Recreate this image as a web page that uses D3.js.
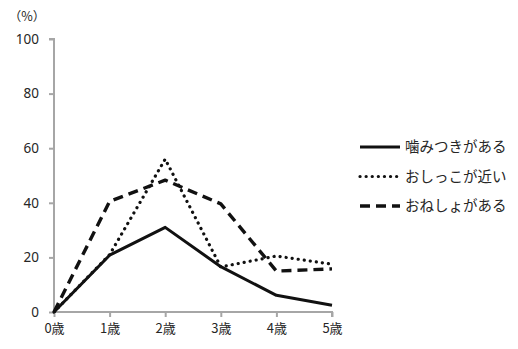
<!DOCTYPE html>
<html>
<head>
<meta charset="utf-8">
<script src="https://cdn.jsdelivr.net/npm/d3@7"></script>
<style>
  html, body { margin: 0; padding: 0; background: #fff; }
  svg { display: block; font-family: "Noto Sans CJK JP", "Noto Sans", sans-serif; }
</style>
</head>
<body>
<svg id="chart" width="518" height="349"></svg>
<script>
// Age categories along the horizontal axis
const ages = ["0歳", "1歳", "2歳", "3歳", "4歳", "5歳"];

// Percentages per symptom at each age
const bitingValues = [0, 20.8, 31, 16.6, 6.1, 2.5];
const urinationValues = [0, 21, 56, 16.5, 20.5, 17.5];
const bedwettingValues = [0, 40.5, 48.3, 39.6, 15, 15.8];

const seriesNames = ["噛みつきがある", "おしっこが近い", "おねしょがある"];
const yTicks = [0, 20, 40, 60, 80, 100];
const yUnit = "（%）";

const series = [
  { name: seriesNames[0], values: bitingValues, dash: null, width: 3, cap: "butt" },
  { name: seriesNames[1], values: urinationValues, dash: "0.1,6", width: 3.2, cap: "round" },
  { name: seriesNames[2], values: bedwettingValues, dash: "10,6", width: 3.4, cap: "butt" }
];

const svg = d3.select("#chart");
const plotLeft = 54, plotRight = 332, plotTop = 39, plotBottom = 312;

const x = d3.scalePoint().domain(ages).range([plotLeft, plotRight]);
const y = d3.scaleLinear().domain([0, 100]).range([plotBottom, plotTop]);

const axisColor = "#a6a6a6";
const textColor = "#262626";

// Y axis
const yAxis = svg.append("g")
  .attr("transform", `translate(${plotLeft},0)`)
  .attr("font-size", null).attr("font-family", null)
  .call(d3.axisLeft(y).tickValues(yTicks).tickSize(5).tickPadding(10));
yAxis.attr("font-size", null).attr("font-family", null);
yAxis.select(".domain").attr("stroke", axisColor).attr("stroke-width", 2)
  .attr("d", `M-5,${plotTop}H0V${plotBottom}`);
yAxis.selectAll(".tick line").attr("stroke", axisColor).attr("stroke-width", 2);
yAxis.selectAll(".tick text").attr("fill", textColor)
  .attr("font-size", 13.5)
  .attr("font-family", "'Noto Sans', 'Noto Sans CJK JP', sans-serif");

// X axis
const xAxis = svg.append("g")
  .attr("transform", `translate(0,${plotBottom})`)
  .call(d3.axisBottom(x).tickSize(5).tickPadding(7));
xAxis.attr("font-size", null).attr("font-family", null);
xAxis.select(".domain").attr("stroke", axisColor).attr("stroke-width", 2)
  .attr("d", `M${plotLeft},0H${plotRight}V5`);
xAxis.selectAll(".tick line").attr("stroke", axisColor).attr("stroke-width", 2);
xAxis.selectAll(".tick text").attr("fill", textColor).attr("font-size", 13);

// Unit label
svg.append("text")
  .attr("x", 27).attr("y", 21)
  .attr("text-anchor", "middle")
  .attr("fill", textColor)
  .attr("font-size", 12.5)
  .text(yUnit);

// Lines
const line = d3.line()
  .x((d, i) => x(ages[i]))
  .y(d => y(d));

series.forEach(s => {
  svg.append("path")
    .datum(s.values)
    .attr("d", line)
    .attr("fill", "none")
    .attr("stroke", "#111")
    .attr("stroke-width", s.width)
    .attr("stroke-linecap", s.cap)
    .attr("stroke-linejoin", "round")
    .attr("stroke-dasharray", s.dash);
});

// Legend
const legend = svg.append("g");
series.forEach((s, i) => {
  const ly = 147 + i * 29.5;
  legend.append("line")
    .attr("x1", 360).attr("x2", 400)
    .attr("y1", ly).attr("y2", ly)
    .attr("stroke", "#111")
    .attr("stroke-width", s.width)
    .attr("stroke-linecap", s.cap)
    .attr("stroke-dasharray", s.dash);
  legend.append("text")
    .attr("x", 405).attr("y", ly)
    .attr("dy", "0.36em")
    .attr("fill", textColor)
    .attr("font-size", 14.5)
    .text(s.name);
});
</script>
</body>
</html>
